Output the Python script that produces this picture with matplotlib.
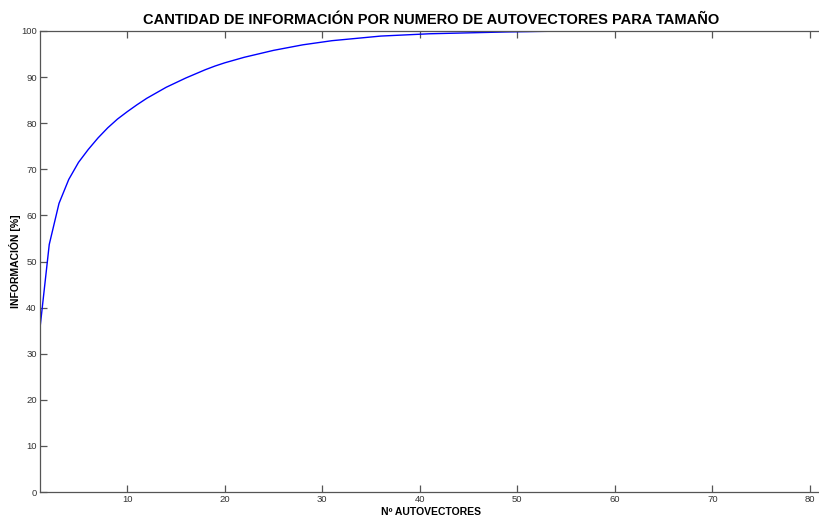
"""
Cantidad de informacion acumulada por numero de autovectores.
"""

import numpy as np
import matplotlib
matplotlib.use('Agg')
import matplotlib.pyplot as plt

# Numero de autovectores y porcentaje de informacion acumulada
n_autovectores = list(range(1, 56))
informacion = [
    34.6, 53.7, 62.6, 67.8, 71.5, 74.3, 76.8, 79.0, 80.9, 82.5,
    84.0, 85.4, 86.6, 87.8, 88.8, 89.8, 90.7, 91.6, 92.4, 93.1,
    93.7, 94.3, 94.8, 95.3, 95.8, 96.2, 96.6, 97.0, 97.3, 97.6,
    97.9, 98.1, 98.3, 98.5, 98.7, 98.9, 99.0, 99.1, 99.2, 99.3,
    99.4, 99.45, 99.5, 99.55, 99.6, 99.65, 99.7, 99.75, 99.8, 99.83,
    99.86, 99.9, 99.93, 99.96, 100.0,
]
x_ticks = [10, 20, 30, 40, 50, 60, 70, 80]
y_ticks = [0, 10, 20, 30, 40, 50, 60, 70, 80, 90, 100]

plt.rcParams['font.family'] = ['Liberation Sans', 'DejaVu Sans']

fig = plt.figure(figsize=(8.19, 5.15), dpi=100)
ax = fig.add_axes([39.5 / 819, 1 - 492 / 515, 783 / 819, 461 / 515])

ax.plot(n_autovectores, informacion, color='#0000ff', linewidth=1.0)

ax.set_xlim(1, 81.3)
ax.set_ylim(0, 100)
ax.set_xticks(x_ticks)
ax.set_yticks(y_ticks)

axis_gray = '#555555'
for spine in ax.spines.values():
    spine.set_color(axis_gray)
    spine.set_linewidth(0.9)
ax.spines['right'].set_visible(False)
ax.tick_params(direction='in', length=5, width=0.9, color=axis_gray,
               labelsize=6.8, labelcolor='#333333', top=True, right=False, pad=2)

ax.set_xlabel('Nº AUTOVECTORES', fontsize=7.5, fontweight='bold', labelpad=2)
ax.set_ylabel('INFORMACIÓN [%]', fontsize=7.5, fontweight='bold', labelpad=0)
ax.set_title('CANTIDAD DE INFORMACIÓN POR NUMERO DE AUTOVECTORES PARA TAMAÑO',
             fontsize=10.5, fontweight='bold', pad=5)

fig.savefig('out.png', dpi=100)
plt.close(fig)
